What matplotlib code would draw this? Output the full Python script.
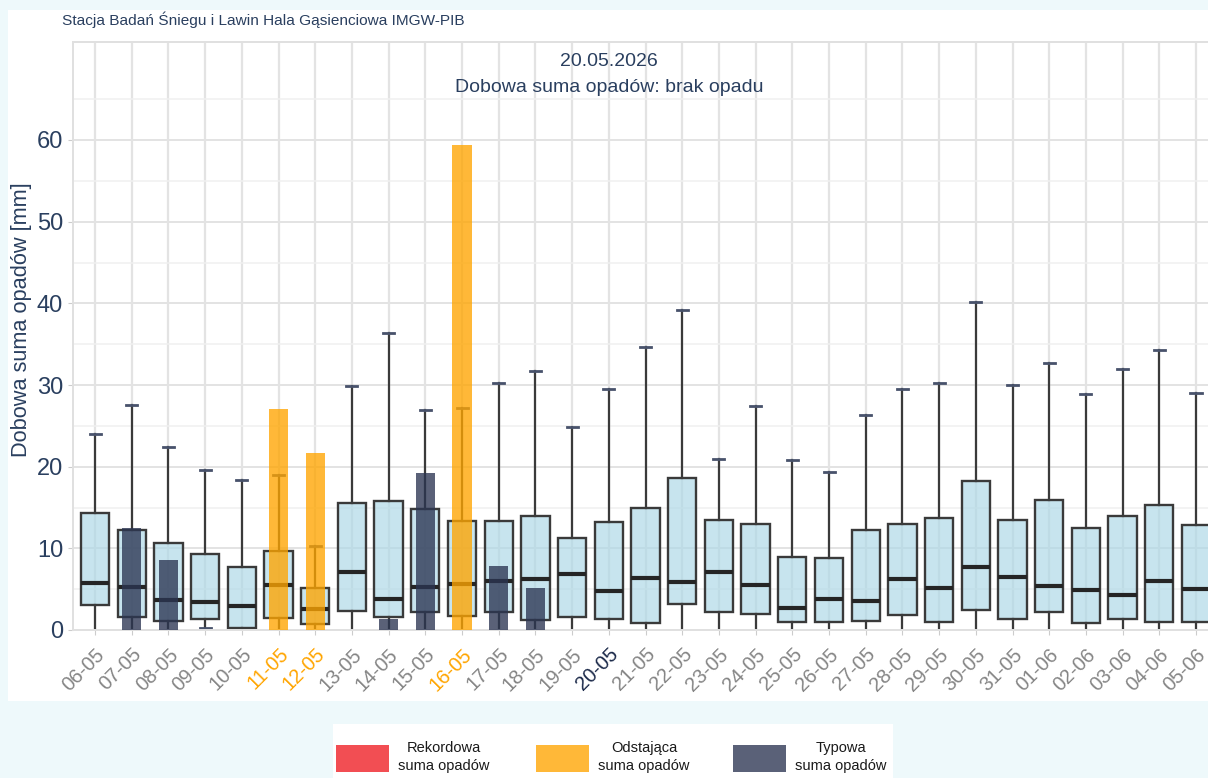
import matplotlib
matplotlib.use("Agg")
import matplotlib.pyplot as plt
from matplotlib.colors import to_rgba
from matplotlib.patches import Rectangle

plt.rcParams['font.family'] = ['Liberation Sans', 'DejaVu Sans']

# dni okna klimatologicznego
dni = ['06-05', '07-05', '08-05', '09-05', '10-05', '11-05', '12-05', '13-05',
       '14-05', '15-05', '16-05', '17-05', '18-05', '19-05', '20-05', '21-05',
       '22-05', '23-05', '24-05', '25-05', '26-05', '27-05', '28-05', '29-05',
       '30-05', '31-05', '01-06', '02-06', '03-06', '04-06', '05-06']

# statystyki wieloletnie [mm]
wasy_dol = [0, 0, 0, 0.25, 0, 0, 0, 0, 0, 0, 0, 0, 0, 0, 0, 0,
            0, 0, 0, 0, 0, 0, 0, 0, 0, 0, 0, 0, 0, 0, 0]
q1 = [3.1, 1.6, 1.1, 1.4, 0.3, 1.5, 0.7, 2.3, 1.6, 2.2, 1.75, 2.2, 1.2, 1.55, 1.3, 0.85,
      3.2, 2.25, 2.0, 1.0, 1.0, 1.1, 1.8, 0.95, 2.5, 1.4, 2.15, 0.85, 1.4, 0.95, 0.95]
mediana = [5.8, 5.3, 3.7, 3.4, 3.0, 5.5, 2.6, 7.1, 3.8, 5.3, 5.6, 6.0, 6.2, 6.9, 4.8, 6.4,
           5.9, 7.1, 5.5, 2.7, 3.8, 3.5, 6.2, 5.2, 7.75, 6.5, 5.4, 4.9, 4.3, 6.0, 5.0]
q3 = [14.3, 12.3, 10.6, 9.3, 7.7, 9.7, 5.2, 15.6, 15.8, 14.8, 13.4, 13.4, 14.0, 11.3, 13.2, 14.9,
      18.6, 13.5, 13.0, 9.0, 8.8, 12.2, 13.0, 13.75, 18.2, 13.5, 15.95, 12.5, 14.0, 15.3, 12.85]
wasy_gora = [24.0, 27.5, 22.4, 19.6, 18.4, 19.0, 10.3, 29.9, 36.4, 27.0, 27.2, 30.2, 31.7, 24.8, 29.5, 34.6,
             39.2, 21.0, 27.4, 20.8, 19.4, 26.3, 29.5, 30.3, 40.2, 29.95, 32.7, 28.9, 32.0, 34.3, 29.0]

# opady zmierzone w danym roku [mm] i ich klasyfikacja
opad = [0, 12.5, 8.6, 0, 0, 27.1, 21.7, 0, 1.3, 19.2, 59.4, 7.8, 5.1, 0, 0, 0,
        0, 0, 0, 0, 0, 0, 0, 0, 0, 0, 0, 0, 0, 0, 0]
typ = ['', 'typowa', 'typowa', '', '', 'odstajaca', 'odstajaca', '', 'typowa', 'typowa',
       'odstajaca', 'typowa', 'typowa', '', '', '', '', '', '', '', '', '', '', '', '',
       '', '', '', '', '', '']
dzis = '20-05'

kolory = {'rekordowa': '#ef1c22', 'odstajaca': '#ffa500', 'typowa': '#2b3552', '': '#ffffff'}
kolory_etykiet = {'rekordowa': '#ef1c22', 'odstajaca': '#ffa500', 'typowa': '#858585', '': '#858585'}
granat = '#2a3f5f'

W, H = 1208, 778
fig = plt.figure(figsize=(W / 100, H / 100), dpi=100)
fig.patch.set_facecolor('#eef9fb')

# biala karta pod wykresem i pod legenda
fig.patches.append(Rectangle((8 / W, 1 - 701 / H), 1.0, (701 - 10) / H,
                             transform=fig.transFigure, facecolor='white', edgecolor='none', zorder=-2))
fig.patches.append(Rectangle((333 / W, 0), 560 / W, (778 - 724) / H,
                             transform=fig.transFigure, facecolor='white', edgecolor='none', zorder=-2))

ax = fig.add_axes([73 / W, 1 - 630 / H, (W - 73) / W, (630 - 42) / H])
ax.set_zorder(1)
ax.set_facecolor('none')

x = list(range(len(dni)))
staty = [dict(med=m, q1=a, q3=b, whislo=lo, whishi=hi, fliers=[])
         for m, a, b, lo, hi in zip(mediana, q1, q3, wasy_dol, wasy_gora)]
bp = ax.bxp(staty, positions=x, widths=0.77, patch_artist=True, showfliers=False,
            capwidths=0.3, manage_ticks=False,
            boxprops=dict(facecolor=to_rgba('#add8e6', 0.68), edgecolor='#3a3a3a', linewidth=1.7),
            medianprops=dict(color='#252525', linewidth=3.0),
            whiskerprops=dict(color='#3a3a3a', linewidth=1.6),
            capprops=dict(color='#48526b', linewidth=2.0),
            zorder=2)
for i, lo in enumerate(wasy_dol):
    if lo == 0:
        bp['caps'][2 * i].set_visible(False)

ax.bar(x, opad, width=0.52, color=[kolory[t] for t in typ], alpha=0.78, zorder=3)

ax.set_xlim(-0.6, (W - 95) / 36.7)
ax.set_ylim(0, 72)
ax.set_yticks(range(0, 70, 10))
ax.set_yticks(range(5, 75, 10), minor=True)
ax.set_xticks(x)
ax.set_xticklabels(dni, rotation=45, ha='right', va='top', rotation_mode='anchor', fontsize=14.5)
for lab, d, t in zip(ax.get_xticklabels(), dni, typ):
    lab.set_color('#1c2a4a' if d == dzis else kolory_etykiet[t])

ax.tick_params(axis='y', which='major', labelsize=17, labelcolor=granat, color='#cccccc',
               length=3.6, pad=3.5)
ax.tick_params(axis='y', which='minor', length=0)
ax.tick_params(axis='x', color='#cccccc', length=3.6, pad=7)

ax.grid(True, which='major', axis='y', color='#e3e3e3', linewidth=1.4, zorder=0)
ax.grid(True, which='minor', axis='y', color='#f0f0f0', linewidth=1.1, zorder=0)
ax.grid(True, which='major', axis='x', color='#e3e3e3', linewidth=1.6, zorder=0)
ax.set_axisbelow(True)
for s in ['top', 'left', 'bottom']:
    ax.spines[s].set_color('#e0e0e0')
    ax.spines[s].set_linewidth(1.4)
ax.spines['right'].set_visible(False)

fig.text(22 / W, 1 - 320 / H, 'Dobowa suma opadów [mm]', rotation=90, ha='center', va='center',
         fontsize=15.7, color=granat)

fig.text(62 / W, 1 - 20 / H, 'Stacja Badań Śniegu i Lawin Hala Gąsienciowa IMGW-PIB',
         ha='left', va='center', fontsize=11.1, color=granat)
fig.text(609 / W, 1 - 62 / H, '20.05.2026', ha='center', va='center', fontsize=14, color=granat)
fig.text(609 / W, 1 - 88 / H, 'Dobowa suma opadów: brak opadu', ha='center', va='center',
         fontsize=14, color=granat)

# legenda
pozycje = [(336, 'rekordowa', 'Rekordowa\nsuma opadów'),
           (536, 'odstajaca', 'Odstająca\nsuma opadów'),
           (733, 'typowa', 'Typowa\nsuma opadów')]
for px, t, opis in pozycje:
    fig.patches.append(Rectangle((px / W, 1 - 772 / H), 53 / W, 27 / H, transform=fig.transFigure,
                                 facecolor=kolory[t], alpha=0.78, edgecolor='none', zorder=1))
    fig.text((px + 108) / W, 1 - 757 / H, opis, ha='center', va='center', fontsize=10.5,
             color='#1a1a1a', linespacing=1.45)

fig.savefig('out.png', dpi=100, facecolor=fig.get_facecolor())
